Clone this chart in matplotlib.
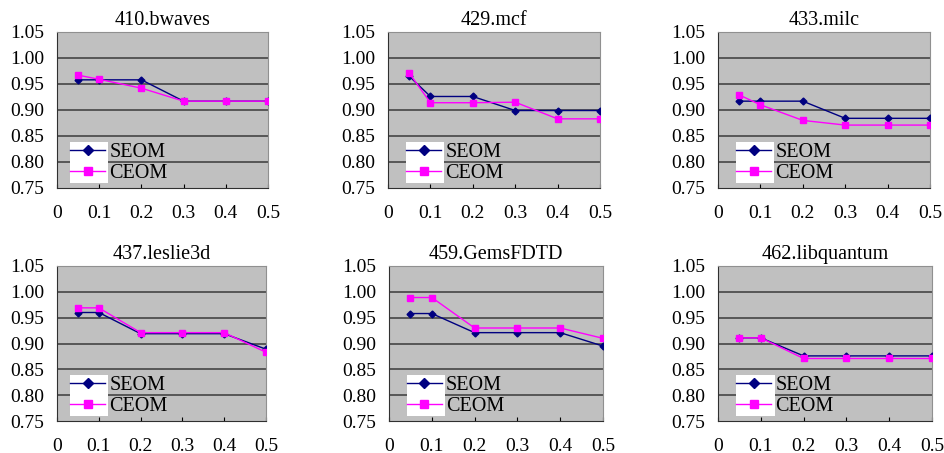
import matplotlib
matplotlib.use("Agg")
import matplotlib.pyplot as plt
from matplotlib.patches import Rectangle

plt.rcParams['font.family'] = ['Liberation Serif', 'DejaVu Serif']

# x positions (fraction) shared by all benchmarks
x_vals = [0.05, 0.1, 0.2, 0.3, 0.4, 0.5]
x_ticks = [0, 0.1, 0.2, 0.3, 0.4, 0.5]
x_ticklabels = ['0', '0.1', '0.2', '0.3', '0.4', '0.5']
y_ticks = [0.75, 0.80, 0.85, 0.90, 0.95, 1.00, 1.05]

titles = ['410.bwaves', '429.mcf', '433.milc',
          '437.leslie3d', '459.GemsFDTD', '462.libquantum']

seom = [
    [0.958, 0.958, 0.958, 0.917, 0.917, 0.917],
    [0.965, 0.926, 0.926, 0.899, 0.899, 0.899],
    [0.917, 0.917, 0.917, 0.884, 0.884, 0.884],
    [0.960, 0.960, 0.919, 0.919, 0.919, 0.889],
    [0.958, 0.958, 0.921, 0.921, 0.921, 0.895],
    [0.911, 0.911, 0.876, 0.876, 0.876, 0.876],
]
ceom = [
    [0.967, 0.959, 0.942, 0.917, 0.917, 0.917],
    [0.971, 0.914, 0.914, 0.915, 0.883, 0.883],
    [0.929, 0.910, 0.880, 0.871, 0.871, 0.871],
    [0.969, 0.969, 0.921, 0.921, 0.921, 0.883],
    [0.989, 0.989, 0.930, 0.930, 0.930, 0.910],
    [0.911, 0.911, 0.871, 0.871, 0.871, 0.871],
]

W, H = 944, 453
# axes boxes in pixels: left, right, top, bottom
boxes = [
    (57, 268, 32, 188), (388, 600, 32, 188), (718, 930, 32, 188),
    (57, 266, 266, 421), (389, 603, 266, 421), (718, 932, 266, 421),
]
legend_x = [0.062, 0.085, 0.085, 0.062, 0.082, 0.085]

fig = plt.figure(figsize=(W / 100, H / 100), dpi=100)

for i, (l, r, t, b) in enumerate(boxes):
    ax = fig.add_axes([l / W, 1 - b / H, (r - l) / W, (b - t) / H])
    ax.set_facecolor('#c0c0c0')
    ax.set_xlim(0, 0.5)
    ax.set_ylim(0.75, 1.05)
    for yv in y_ticks[1:-1]:
        ax.axhline(yv, color='#3a3a3a', lw=1.1, zorder=1)

    ax.plot(x_vals, seom[i], color='#000080', lw=1, marker='D', ms=3.5,
            label='SEOM', zorder=3)
    ax.plot(x_vals, ceom[i], color='#ff00ff', lw=1, marker='s', ms=4.2,
            label='CEOM', zorder=3)

    ax.set_xticks(x_ticks)
    ax.set_xticklabels(x_ticklabels)
    ax.set_yticks(y_ticks)
    ax.set_yticklabels(['%.2f' % v for v in y_ticks])
    ax.tick_params(axis='x', direction='in', length=3, pad=12, labelsize=14)
    ax.tick_params(axis='y', length=0, pad=9, labelsize=14)
    for s in ('left', 'bottom'):
        ax.spines[s].set_color('#303030')
    for s in ('top', 'right'):
        ax.spines[s].set_color('#909090')
    ax.set_title(titles[i], fontsize=14.5, pad=5)

    lx = legend_x[i]
    ax.add_patch(Rectangle((lx, 0.032), 0.18, 0.265, transform=ax.transAxes,
                           facecolor='white', edgecolor='none', zorder=4))
    ax.legend(loc='lower left', bbox_to_anchor=(lx, 0.032), frameon=False,
              borderpad=0, borderaxespad=0, handlelength=1.75,
              handletextpad=0.2, labelspacing=0.1, fontsize=14.5,
              markerscale=1.4)

fig.savefig('out.png', dpi=100)
